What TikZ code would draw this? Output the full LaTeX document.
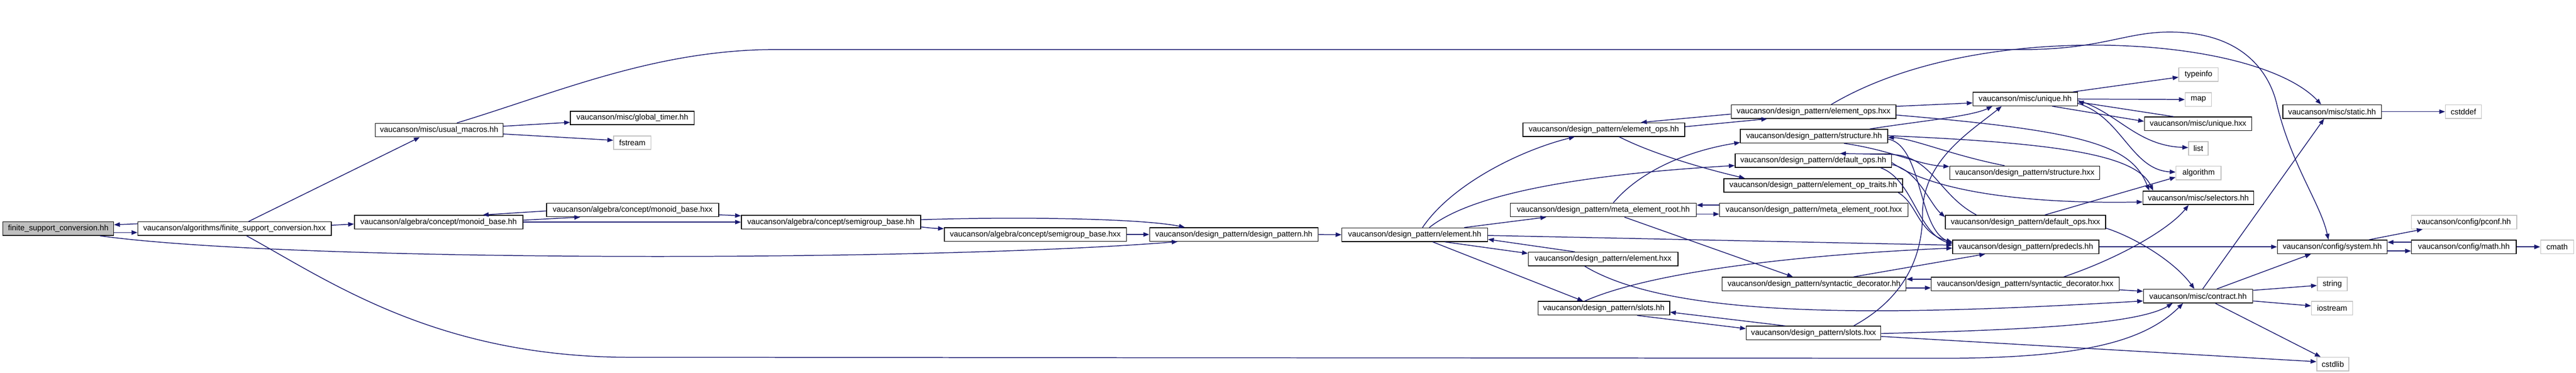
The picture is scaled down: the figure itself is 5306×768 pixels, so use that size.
\documentclass[tikz,border=0pt]{standalone}
\usepackage{fontspec}
\usetikzlibrary{arrows.meta}
\newfontfamily\graphfont{Liberation Sans}
\definecolor{edgeblue}{HTML}{191970}
\definecolor{sysgray}{HTML}{C0C0C0}
\definecolor{rootgray}{HTML}{BFBFBF}
\tikzset{
  incbox/.style={draw=black, line width=0.45pt, fill=white, minimum height=0.28cm, inner sep=0pt, font=\graphfont\fontsize{4.6}{5}\selectfont},
  sysbox/.style={incbox, draw=sysgray},
  rootbox/.style={incbox, fill=rootgray},
  inc/.style={draw=edgeblue, line width=0.45pt, -{Triangle[length=0.12cm,width=0.09cm]}}
}
\begin{document}
\begin{tikzpicture}[x=0.01cm, y=-0.01cm]
            \useasboundingbox (0,0) rectangle (5306,768);

            \node[rootbox, minimum width=2.28cm] (finiteHH) at (120,471) {finite\_support\_conversion.hh};
            \node[incbox, minimum width=3.98cm] (finiteHXX) at (483,471) {vaucanson/algorithms/finite\_support\_conversion.hxx};
            \node[incbox, minimum width=2.63cm] (usualMacros) at (904.5,268) {vaucanson/misc/usual\_macros.hh};
            \node[incbox, minimum width=2.55cm] (globalTimer) at (1302.5,243) {vaucanson/misc/global\_timer.hh};
            \node[sysbox, minimum width=0.77cm] (fstream) at (1302.5,294) {fstream};
            \node[incbox, minimum width=3.47cm] (monoidHH) at (903.5,457.5) {vaucanson/algebra/concept/monoid\_base.hh};
            \node[incbox, minimum width=3.54cm] (monoidHXX) at (1303,432.5) {vaucanson/algebra/concept/monoid\_base.hxx};
            \node[incbox, minimum width=3.69cm] (semigroupHH) at (1711.5,457.5) {vaucanson/algebra/concept/semigroup\_base.hh};
            \node[incbox, minimum width=3.75cm] (semigroupHXX) at (2132.5,483) {vaucanson/algebra/concept/semigroup\_base.hxx};
            \node[incbox, minimum width=3.47cm] (designPattern) at (2541.5,483) {vaucanson/design\_pattern/design\_pattern.hh};
            \node[incbox, minimum width=3.00cm] (elementHH) at (2914,483.5) {vaucanson/design\_pattern/element.hh};
            \node[incbox, minimum width=3.08cm] (elementHXX) at (3302,533.5) {vaucanson/design\_pattern/element.hxx};
            \node[incbox, minimum width=2.71cm] (slotsHH) at (3303.5,635) {vaucanson/design\_pattern/slots.hh};
            \node[incbox, minimum width=3.33cm] (elementOpsHH) at (3303.5,267) {vaucanson/design\_pattern/element\_ops.hh};
            \node[incbox, minimum width=3.83cm] (metaRootHH) at (3302.5,432.5) {vaucanson/design\_pattern/meta\_element\_root.hh};
            \node[incbox, minimum width=3.39cm] (elementOpsHXX) at (3735.5,230) {vaucanson/design\_pattern/element\_ops.hxx};
            \node[incbox, minimum width=3.03cm] (structureHH) at (3736.5,280.5) {vaucanson/design\_pattern/structure.hh};
            \node[incbox, minimum width=3.22cm] (defaultOpsHH) at (3735,331) {vaucanson/design\_pattern/default\_ops.hh};
            \node[incbox, minimum width=3.68cm] (opTraits) at (3735,382) {vaucanson/design\_pattern/element\_op\_traits.hh};
            \node[incbox, minimum width=3.88cm] (metaRootHXX) at (3736,432.5) {vaucanson/design\_pattern/meta\_element\_root.hxx};
            \node[incbox, minimum width=3.79cm] (syntacticHH) at (3736.5,585) {vaucanson/design\_pattern/syntactic\_decorator.hh};
            \node[incbox, minimum width=2.77cm] (slotsHXX) at (3735.5,686) {vaucanson/design\_pattern/slots.hxx};
            \node[incbox, minimum width=3.87cm] (syntacticHXX) at (4171.5,585) {vaucanson/design\_pattern/syntactic\_decorator.hxx};
            \node[incbox, minimum width=3.01cm] (predecls) at (4172.5,508.5) {vaucanson/design\_pattern/predecls.hh};
            \node[incbox, minimum width=3.30cm] (defaultOpsHXX) at (4172,457.5) {vaucanson/design\_pattern/default\_ops.hxx};
            \node[incbox, minimum width=3.09cm] (structureHXX) at (4170.5,356) {vaucanson/design\_pattern/structure.hxx};
            \node[incbox, minimum width=2.15cm] (uniqueHH) at (4171.5,204) {vaucanson/misc/unique.hh};
            \node[sysbox, minimum width=0.81cm] (typeinfo) at (4528.5,153.5) {typeinfo};
            \node[sysbox, minimum width=0.54cm] (map) at (4528,205) {map};
            \node[incbox, minimum width=2.21cm] (uniqueHXX) at (4527.5,255) {vaucanson/misc/unique.hxx};
            \node[sysbox, minimum width=0.40cm] (list) at (4528,306) {list};
            \node[sysbox, minimum width=0.93cm] (algorithm) at (4528.5,356.5) {algorithm};
            \node[incbox, minimum width=2.28cm] (selectors) at (4528,407.5) {vaucanson/misc/selectors.hh};
            \node[incbox, minimum width=2.03cm] (static) at (4803.5,230) {vaucanson/misc/static.hh};
            \node[sysbox, minimum width=0.74cm] (cstddef) at (5074,230) {cstddef};
            \node[incbox, minimum width=2.25cm] (contract) at (4527.5,610) {vaucanson/misc/contract.hh};
            \node[incbox, minimum width=2.26cm] (system) at (4804,508.5) {vaucanson/config/system.hh};
            \node[incbox, minimum width=2.16cm] (math) at (5075,508.5) {vaucanson/config/math.hh};
            \node[sysbox, minimum width=0.68cm] (cmath) at (5267,508.5) {cmath};
            \node[sysbox, minimum width=2.17cm] (pconf) at (5075.5,457.5) {vaucanson/config/pconf.hh};
            \node[sysbox, minimum width=0.62cm] (string) at (4804,585) {string};
            \node[sysbox, minimum width=0.85cm] (iostream) at (4803.5,635) {iostream};
            \node[sysbox, minimum width=0.66cm] (cstdlib) at (4805,750) {cstdlib};

            \draw[inc] ([shift={(0,8)}]finiteHH.east) -- ([shift={(0,8)}]finiteHXX.west);
            \draw[inc] ([shift={(0,-10)}]finiteHXX.west) -- ([shift={(0,-8)}]finiteHH.east);
            \draw[inc] ([shift={(86,0)}]finiteHH.south) .. controls (600,540) and (1900,540) .. ([shift={(-116,0)}]designPattern.south);
            \draw[inc] ([shift={(29,0)}]finiteHXX.north) -- ([shift={(-40,0)}]usualMacros.south);
            \draw[inc] ([shift={(0,-7)}]finiteHXX.east) -- ([shift={(0,4)}]monoidHH.west);
            \draw[inc] ([shift={(25,0)}]finiteHXX.south) .. controls (680,580) and (900,736) .. (1300,736) -- (4000,738) .. controls (4300,738) and (4420,700) .. ([shift={(-31,0)}]contract.south);
            \draw[inc] ([shift={(0,-8)}]usualMacros.east) -- ([shift={(0,9)}]globalTimer.west);
            \draw[inc] ([shift={(0,8)}]usualMacros.east) -- ([shift={(0,-5)}]fstream.west);
            \draw[inc] ([shift={(36.5,0)}]usualMacros.north) .. controls (1150,190) and (1350,102) .. (1600,102) -- (4180,102) .. controls (4330,100) and (4380,66) .. (4469,66) .. controls (4620,66) and (4675,150) .. (4690,216) .. controls (4720,340) and (4780,420) .. ([shift={(-8,0)}]system.north);
            \draw[inc] ([shift={(0,-4)}]monoidHH.east) -- ([shift={(-108,0)}]monoidHXX.south);
            \draw[inc] ([shift={(0,2)}]monoidHXX.west) -- ([shift={(91,0)}]monoidHH.north);
            \draw[inc] (monoidHH.east) -- (semigroupHH.west);
            \draw[inc] ([shift={(0,10)}]monoidHXX.east) -- ([shift={(0,-13)}]semigroupHH.west);
            \draw[inc] ([shift={(0,10)}]semigroupHH.east) .. controls (1920,470) .. ([shift={(0,-12)}]semigroupHXX.west);
            \draw[inc] ([shift={(0,-5)}]semigroupHH.east) .. controls (2100,446) and (2350,450) .. ([shift={(-101,0)}]designPattern.north);
            \draw[inc] (semigroupHXX.east) -- (designPattern.west);
            \draw[inc] (designPattern.east) -- (elementHH.west);
            \draw[inc] ([shift={(16,0)}]elementHH.north) .. controls (2990,380) and (3130,310) .. ([shift={(-60,0)}]elementOpsHH.south);
            \draw[inc] ([shift={(30,0)}]elementHH.north) .. controls (3030,400) and (3250,360) .. ([shift={(0,10)}]defaultOpsHH.west);
            \draw[inc] ([shift={(102,0)}]elementHH.north) -- ([shift={(-117.5,0)}]metaRootHH.south);
            \draw[inc] ([shift={(62,0)}]elementHH.south) -- ([shift={(0,-11.5)}]elementHXX.west);
            \draw[inc] ([shift={(-58,0)}]elementHXX.north) -- ([shift={(0,9.5)}]elementHH.east);
            \draw[inc] ([shift={(37,0)}]elementHH.south) -- ([shift={(-42.5,0)}]slotsHH.north);
            \draw[inc] ([shift={(0,1.5)}]elementHH.east) -- ([shift={(0,-3.5)}]predecls.west);
            \draw[inc] ([shift={(-38,0)}]elementHXX.south) .. controls (3450,660) and (3900,650) .. ([shift={(0,10)}]contract.west);
            \draw[inc] ([shift={(-39.5,0)}]slotsHH.north) .. controls (3400,560) and (3700,525) .. ([shift={(0,2.5)}]predecls.west);
            \draw[inc] ([shift={(68.5,0)}]slotsHH.south) -- ([shift={(0,-9)}]slotsHXX.west);
            \draw[inc] ([shift={(-58.5,0)}]slotsHXX.north) -- ([shift={(0,8)}]slotsHH.east);
            \draw[inc] ([shift={(0,-6)}]elementOpsHH.east) -- ([shift={(-95.5,0)}]elementOpsHXX.south);
            \draw[inc] ([shift={(0,5)}]elementOpsHXX.west) -- ([shift={(76.5,0)}]elementOpsHH.north);
            \draw[inc] ([shift={(31.5,0)}]elementOpsHH.south) .. controls (3400,315) and (3500,345) .. ([shift={(-141,0)}]opTraits.north);
            \draw[inc] ([shift={(20.5,0)}]metaRootHH.north) .. controls (3380,350) and (3480,310) .. ([shift={(0,13)}]structureHH.west);
            \draw[inc] ([shift={(0,8.5)}]metaRootHH.east) -- ([shift={(0,8.5)}]metaRootHXX.west);
            \draw[inc] ([shift={(0,-10)}]metaRootHXX.west) -- ([shift={(0,-10)}]metaRootHH.east);
            \draw[inc] ([shift={(43.5,0)}]metaRootHH.south) -- ([shift={(-43.5,0)}]syntacticHH.north);
            \draw[inc] ([shift={(0,-11)}]elementOpsHXX.east) -- ([shift={(0,8)}]uniqueHH.west);
            \draw[inc] ([shift={(36.5,0)}]elementOpsHXX.north) .. controls (3950,110) and (4200,85) .. (4390,95) .. controls (4580,105) and (4720,150) .. ([shift={(-22.5,0)}]static.north);
            \draw[inc] ([shift={(0,7)}]elementOpsHXX.east) .. controls (4300,270) and (4390,300) .. ([shift={(-101,0)}]selectors.north);
            \draw[inc] ([shift={(0,-1)}]structureHH.east) .. controls (4250,295) and (4400,320) .. ([shift={(-93,0)}]selectors.north);
            \draw[inc] ([shift={(114.5,0)}]structureHH.north) .. controls (3950,250) and (4060,240) .. ([shift={(-67.5,0)}]uniqueHH.south);
            \draw[inc] ([shift={(61.5,0)}]structureHH.south) .. controls (3900,310) and (3950,340) .. ([shift={(0,-13)}]structureHXX.west);
            \draw[inc] ([shift={(-41.5,0)}]structureHXX.north) .. controls (4020,320) and (3940,285) .. ([shift={(0,2.5)}]structureHH.east);
            \draw[inc] ([shift={(0,6)}]structureHH.east) .. controls (3960,300) and (3950,470) .. ([shift={(0,-8)}]predecls.west);
            \draw[inc] ([shift={(82.5,0)}]slotsHXX.north) .. controls (3930,610) and (3960,520) .. (3960,440) .. controls (3960,330) and (4060,270) .. ([shift={(-48.5,0)}]uniqueHH.south);
            \draw[inc] ([shift={(0,8)}]defaultOpsHH.east) .. controls (3950,350) and (3975,420) .. ([shift={(0,-10.5)}]defaultOpsHXX.west);
            \draw[inc] ([shift={(-101,0)}]defaultOpsHXX.north) .. controls (3990,400) and (3980,318) .. (3890,318) -- ([shift={(55,0)}]defaultOpsHH.north);
            \draw[inc] ([shift={(139,0)}]defaultOpsHH.south) .. controls (3940,370) and (3950,480) .. ([shift={(0,-6)}]predecls.west);
            \draw[inc] ([shift={(0,4)}]defaultOpsHH.east) .. controls (3990,400) and (4200,420) .. ([shift={(0,8.5)}]selectors.west);
            \draw[inc] ([shift={(175,0)}]opTraits.south) .. controls (3950,420) and (3950,480) .. ([shift={(0,-10)}]predecls.west);
            \draw[inc] ([shift={(0,8)}]syntacticHH.east) -- ([shift={(0,8)}]syntacticHXX.west);
            \draw[inc] ([shift={(0,-10)}]syntacticHXX.west) -- ([shift={(0,-10)}]syntacticHH.east);
            \draw[inc] ([shift={(81.5,0)}]syntacticHH.north) -- ([shift={(-83.5,0)}]predecls.south);
            \draw[inc] ([shift={(79.5,0)}]syntacticHXX.north) .. controls (4370,530) and (4470,470) .. ([shift={(-20,0)}]selectors.south);
            \draw[inc] ([shift={(0,12)}]syntacticHXX.east) -- ([shift={(0,-10)}]contract.west);
            \draw[inc] ([shift={(0,1)}]slotsHXX.east) .. controls (4150,680) and (4400,670) .. ([shift={(-52.5,0)}]contract.south);
            \draw[inc] ([shift={(0,7)}]slotsHXX.east) -- ([shift={(0,-5)}]cstdlib.west);
            \draw[inc] ([shift={(0,12.5)}]defaultOpsHXX.east) .. controls (4400,490) and (4480,540) .. ([shift={(-7.5,0)}]contract.north);
            \draw[inc] ([shift={(40,0)}]defaultOpsHXX.north) -- ([shift={(0,8.5)}]algorithm.west);
            \draw[inc] (predecls.east) -- (system.west);
            \draw[inc] ([shift={(98.5,0)}]uniqueHH.north) -- ([shift={(0,5.5)}]typeinfo.west);
            \draw[inc] (uniqueHH.east) -- (map.west);
            \draw[inc] ([shift={(55.5,0)}]uniqueHH.south) -- ([shift={(0,-5)}]uniqueHXX.west);
            \draw[inc] ([shift={(-50.5,0)}]uniqueHXX.north) -- ([shift={(0,6)}]uniqueHH.east);
            \draw[inc] ([shift={(0,3)}]uniqueHH.east) .. controls (4360,230) and (4400,300) .. ([shift={(0,-2)}]list.west);
            \draw[inc] ([shift={(0,9)}]uniqueHH.east) .. controls (4370,240) and (4390,350) .. ([shift={(0,-2)}]algorithm.west);
            \draw[inc] (static.east) -- (cstddef.west);
            \draw[inc] ([shift={(9.5,0)}]contract.north) -- ([shift={(-16.5,0)}]static.south);
            \draw[inc] ([shift={(38.5,0)}]contract.north) -- ([shift={(-44,0)}]system.south);
            \draw[inc] ([shift={(0,-12)}]contract.east) -- ([shift={(0,3)}]string.west);
            \draw[inc] ([shift={(0,10)}]contract.east) -- ([shift={(0,-5)}]iostream.west);
            \draw[inc] ([shift={(35.5,0)}]contract.south) -- ([shift={(-25,0)}]cstdlib.north);
            \draw[inc] ([shift={(76,0)}]system.north) -- ([shift={(-85.5,0)}]pconf.south);
            \draw[inc] ([shift={(0,8.5)}]system.east) -- ([shift={(0,8.5)}]math.west);
            \draw[inc] ([shift={(0,-9.5)}]math.west) -- ([shift={(0,-9.5)}]system.east);
            \draw[inc] (math.east) -- (cmath.west);
\end{tikzpicture}
\end{document}
